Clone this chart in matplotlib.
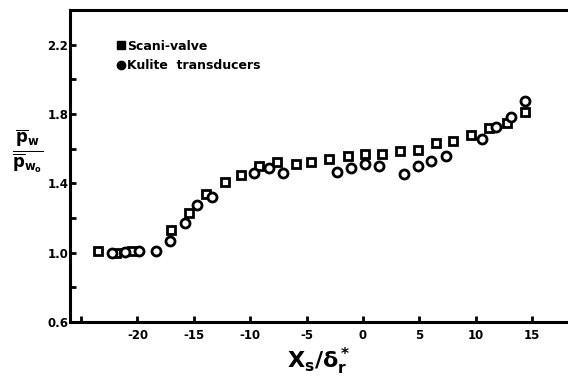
import matplotlib.pyplot as plt
from matplotlib.lines import Line2D

# Scani-valve (square markers)
scani_x = [-23.5, -21.9, -20.5, -17.05, -15.46, -13.96, -12.27, -10.8, -9.18, -7.6,
           -5.93, -4.6, -3.04, -1.36, 0.2, 1.73, 3.3, 4.92, 6.46, 8.02,
           9.56, 11.18, 12.8, 14.36]
scani_y = [1.007, 1.0, 1.007, 1.13, 1.23, 1.34, 1.41, 1.45, 1.50, 1.52,
           1.51, 1.52, 1.54, 1.56, 1.57, 1.566, 1.585, 1.59, 1.63, 1.646,
           1.68, 1.716, 1.75, 1.81]

# Kulite transducers (circle markers)
kulite_x = [-22.3, -21.1, -19.86, -18.4, -17.14, -15.8, -14.7, -13.36, -9.62, -8.35,
            -7.1, -2.34, -1.06, 0.2, 1.44, 3.65, 4.92, 6.07, 7.4, 10.58,
            11.77, 13.1, 14.36]
kulite_y = [0.998, 1.006, 1.007, 1.007, 1.065, 1.17, 1.274, 1.32, 1.46, 1.49,
            1.46, 1.465, 1.49, 1.51, 1.50, 1.455, 1.50, 1.53, 1.56, 1.655,
            1.727, 1.78, 1.874]

xticks = [-25, -20, -15, -10, -5, 0, 5, 10, 15]
xlabels = ['', '-20', '-15', '-10', '-5', '0', '5', '10', '15']
yticks = [0.6, 1.0, 1.4, 1.8, 2.2]

fig = plt.figure(figsize=(5.68, 3.78), dpi=100)
ax = fig.add_axes([0.123, 0.148, 0.877, 0.826])

ax.plot(scani_x, scani_y, 's', ms=5.8, mfc='white', mec='black', mew=2.0, ls='none')
ax.plot(kulite_x, kulite_y, 'o', ms=6.5, mfc='white', mec='black', mew=2.0, ls='none')

ax.set_xlim(-26, 18.2)
ax.set_ylim(0.6, 2.40)

ax.spines['right'].set_visible(False)
for s in ['left', 'bottom', 'top']:
    ax.spines[s].set_linewidth(2.2)

ax.set_xticks(xticks)
ax.set_xticklabels(xlabels, fontweight='bold', fontsize=8.5)
ax.set_yticks(yticks)
ax.set_yticklabels(['%.1f' % v for v in yticks], fontweight='bold', fontsize=8.5)
ax.set_yticks([0.8, 1.2, 1.6, 2.0], minor=True)
ax.tick_params(axis='both', which='both', direction='in', length=4, width=2)
ax.tick_params(axis='x', pad=5)
ax.tick_params(axis='y', pad=1)

handles = [Line2D([], [], marker='s', color='black', ls='none', ms=6),
           Line2D([], [], marker='o', color='black', ls='none', ms=6)]
ax.legend(handles, ['Scani-valve', 'Kulite  transducers'], loc='upper left',
          bbox_to_anchor=(0.085, 0.92), frameon=False, handlelength=0.6,
          handletextpad=0.2, labelspacing=0.5, borderaxespad=0,
          prop={'weight': 'bold', 'size': 9})

ax.set_xlabel(r'$\mathbf{X_s/\delta_r^*}$', fontsize=16, labelpad=3)
fig.text(0.048, 0.60, r'$\frac{\overline{\mathbf{p}}_{\mathbf{w}}}{\overline{\mathbf{p}}_{\mathbf{w_o}}}$',
         fontsize=17, ha='center', va='center')

fig.savefig('out.png', dpi=100)
